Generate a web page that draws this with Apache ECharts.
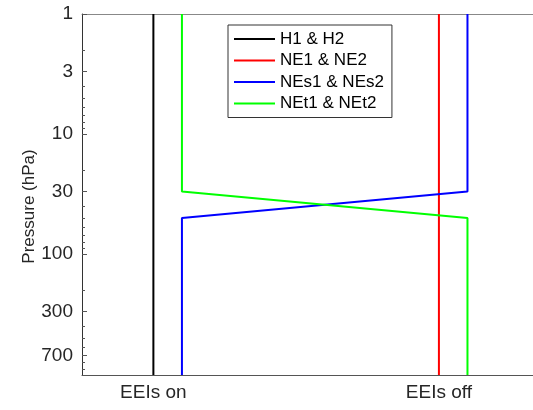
<!DOCTYPE html>
<html>
<head>
<meta charset="utf-8">
<script src="https://cdn.jsdelivr.net/npm/echarts@6/dist/echarts.min.js"></script>
<style>
  html, body { margin: 0; padding: 0; background: #fff; }
  #chart { width: 533px; height: 410px; }
</style>
</head>
<body>
<div id="chart"></div>
<script>
// x positions of the two cases and their labels
const caseX = [1, 2]
const caseLabels = ['EEIs on', 'EEIs off']
// pressure axis labels (hPa)
const pressureTicks = [1, 3, 10, 30, 100, 300, 700]
const pressureMin = 1
const pressureMax = 1013

// each line: [x, pressure]
const h12 = [[1, 1], [1, 1013]]
const ne12 = [[2, 1], [2, 1013]]
const nes12 = [[1.1, 1013], [1.1, 50], [2.1, 30], [2.1, 1]]
const net12 = [[1.1, 1], [1.1, 30], [2.1, 50], [2.1, 1013]]

// minor ticks 2..9 per decade (unlabelled)
const minorTicks = []
for (let d = 1; d <= 100; d *= 10) {
  for (let m = 2; m <= 9; m++) {
    const v = m * d
    if (v <= pressureMax && pressureTicks.indexOf(v) < 0) minorTicks.push(v)
  }
}

const font = 'Liberation Sans, Arial, Helvetica, sans-serif'
const chart = echarts.init(document.getElementById('chart'))

function line (name, color, data) {
  return {
    name: name,
    type: 'line',
    data: data,
    symbol: 'none',
    silent: true,
    lineStyle: { color: color, width: 2 },
    itemStyle: { color: color }
  }
}

const option = {
  animation: false,
  textStyle: { fontFamily: font },
  grid: {
    left: 82,
    top: 14,
    right: -3,
    bottom: 35,
    containLabel: false,
    outerBoundsMode: 'none'
  },
  legend: {
    orient: 'vertical',
    left: 228,
    top: 25,
    padding: [5, 8, 5, 6],
    icon: 'rect',
    itemWidth: 41,
    itemHeight: 2,
    itemGap: 3.5,
    backgroundColor: '#fff',
    borderColor: '#333',
    borderWidth: 1,
    borderRadius: 0,
    textStyle: { fontFamily: font, fontSize: 17, color: '#000', lineHeight: 18 },
    data: ['H1 & H2', 'NE1 & NE2', 'NEs1 & NEs2', 'NEt1 & NEt2']
  },
  xAxis: [
    {
      type: 'value',
      min: 0.75,
      max: 2.34,
      splitLine: { show: false },
      axisLine: { show: true, lineStyle: { color: '#555', width: 1 } },
      axisTick: { show: false },
      axisLabel: {
        customValues: caseX,
        formatter: function (v) { return caseLabels[caseX.indexOf(v)] },
        color: '#262626',
        fontSize: 19,
        fontFamily: font,
        margin: 8
      }
    },
    {
      type: 'value',
      position: 'top',
      min: 0.75,
      max: 2.34,
      splitLine: { show: false },
      axisLine: { show: true, onZero: false, lineStyle: { color: '#888', width: 1 } },
      axisTick: { show: false },
      axisLabel: { show: false }
    }
  ],
  yAxis: [
    {
      type: 'log',
      logBase: 10,
      min: pressureMin,
      max: pressureMax,
      inverse: true,
      name: 'Pressure (hPa)',
      nameLocation: 'middle',
      nameGap: 44,
      nameMoveOverlap: false,
      nameTextStyle: { fontSize: 17, color: '#262626', fontFamily: font, padding: [0, 24, 0, 0] },
      splitLine: { show: false },
      axisLine: { show: true, onZero: false, lineStyle: { color: '#333', width: 1 } },
      axisTick: { show: true, inside: true, length: 5, customValues: pressureTicks, lineStyle: { color: '#555' } },
      axisLabel: {
        customValues: pressureTicks,
        formatter: function (v) { return String(Math.round(v)) },
        color: '#262626',
        fontSize: 19,
        fontFamily: font,
        margin: 9
      }
    },
    {
      type: 'log',
      logBase: 10,
      min: pressureMin,
      max: pressureMax,
      inverse: true,
      position: 'left',
      splitLine: { show: false },
      axisLine: { show: false },
      axisTick: { show: true, inside: true, length: 3, customValues: minorTicks, lineStyle: { color: '#555' } },
      axisLabel: { show: false }
    }
  ],
  series: [
    line('H1 & H2', '#000000', h12),
    line('NE1 & NE2', '#ff0000', ne12),
    line('NEs1 & NEs2', '#0000ff', nes12),
    line('NEt1 & NEt2', '#00ff00', net12)
  ]
}

chart.setOption(option)
window.addEventListener('resize', function () { chart.resize() })
</script>
</body>
</html>
